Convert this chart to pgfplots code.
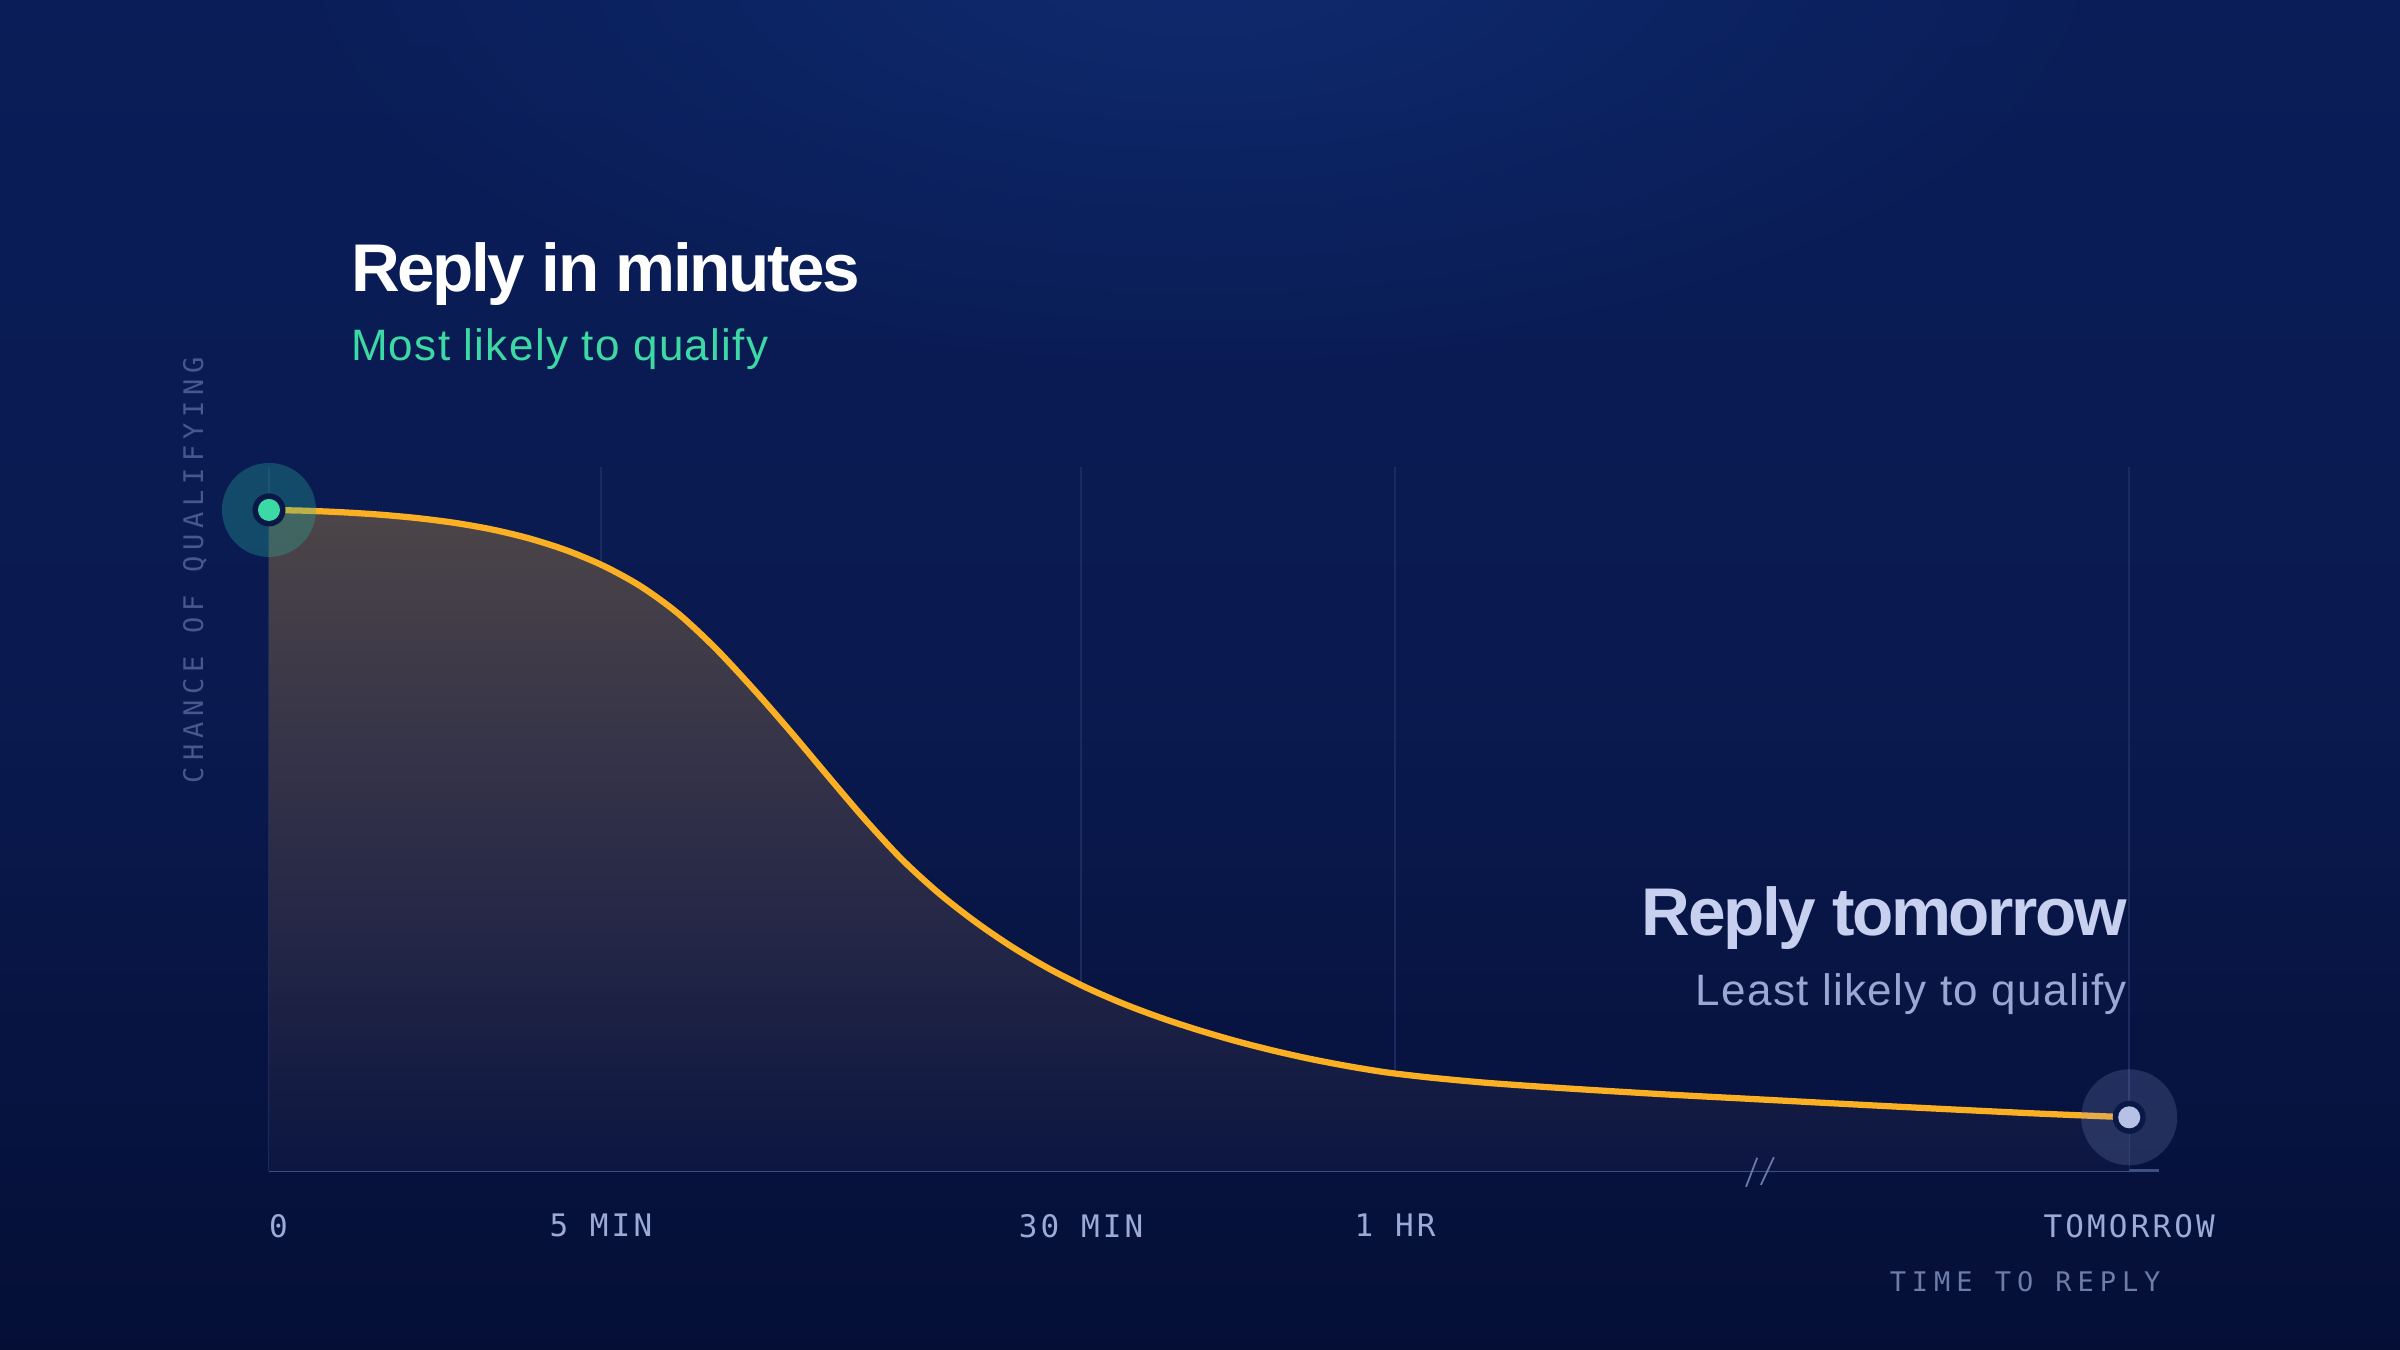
\documentclass[border=0pt]{standalone}
\usepackage{fontspec}
\usepackage{pgfplots}
\usepackage{pgfplotstable}
\pgfplotsset{compat=1.18}
\usetikzlibrary{fadings}
\setmainfont{Liberation Sans}
\newfontfamily\titlefont[LetterSpace=-3.5]{Liberation Sans}
\newfontfamily\subfont[LetterSpace=3]{Liberation Sans}
\newfontfamily\tickfont[LetterSpace=10]{DejaVu Sans Mono}
\newfontfamily\labfont[LetterSpace=22]{DejaVu Sans Mono}

\definecolor{bgTop}{HTML}{0A1D58}
\definecolor{bgMid}{HTML}{0A1A50}
\definecolor{bgBot}{HTML}{050F36}
\definecolor{glow}{HTML}{0F2B6E}
\definecolor{fillTop}{HTML}{4C4548}
\definecolor{fillMid}{HTML}{2D2D48}
\definecolor{fillBot}{HTML}{0C1641}
\definecolor{curvec}{HTML}{FBB024}
\definecolor{gridc}{HTML}{1B2B5F}
\definecolor{axisc}{HTML}{3F4F82}
\definecolor{tickc}{HTML}{9CAAD6}
\definecolor{xlabc}{HTML}{6E7CA8}
\definecolor{ylabc}{HTML}{46588D}
\definecolor{greenc}{HTML}{3DD9A4}
\definecolor{lavT}{HTML}{C8D0F0}
\definecolor{lavS}{HTML}{9AA6D4}
\definecolor{ringc}{HTML}{0A1848}
\definecolor{dotEnd}{HTML}{B7C1E6}
\definecolor{haloA}{HTML}{2BB5A0}
\definecolor{haloB}{HTML}{8F9FD8}
\definecolor{breakc}{HTML}{6B7AA8}

\tikzfading[name=glowfade, inner color=transparent!0, outer color=transparent!100]

% x: position on the time axis (0 = reply now, 100 = tomorrow)
% y: chance of qualifying (relative, 100 = immediate reply)
\pgfplotstableread{
x y
0 100
2 99.88
4 99.64
6 99.28
8 98.76
10 98.04
12 97.04
14 95.68
16 93.88
18 91.52
20 88.42
22 84.32
24 79.08
26 73.04
28 66.60
30 59.90
32 53.30
34 47.20
36 42.04
38 37.64
40 33.80
42 30.50
44 27.66
46 25.22
48 23.12
50 21.28
52 19.64
54 18.20
56 16.94
58 15.86
60 14.94
62 14.26
64 13.70
66 13.22
70 12.45
75 11.60
80 10.85
85 10.10
90 9.38
95 8.70
100 8.12
}\curvedata

\begin{document}
\begin{tikzpicture}
% background
\shade[top color=bgTop, bottom color=bgBot, middle color=bgMid] (0,0) rectangle (480pt,270pt);
\fill[glow, path fading=glowfade] (240pt,280pt) ellipse (190pt and 85pt);

\begin{axis}[
  at={(53.8pt,35.8pt)}, anchor=south west,
  scale only axis, width=378pt, height=140.8pt,
  xmin=0, xmax=101.6, ymin=0, ymax=106.5,
  clip=false,
  axis y line=none,
  axis x line*=bottom,
  x axis line style={color=axisc, line width=0.6pt, -},
  xtick={17.84,43.66,60.53,100},
  xticklabels={5 MIN,30 MIN,1 HR,TOMORROW},
  extra x ticks={0},
  extra x tick labels={0},
  extra x tick style={xticklabel style={anchor=north west, xshift=-3.5pt}},
  major tick length=0pt,
  xmajorgrids,
  grid style={color=gridc, line width=0.3pt},
  xticklabel style={font=\tickfont\fontsize{6.2}{7}\selectfont, text=tickc, anchor=north, yshift=-5.1pt},
  ytick=\empty,
]
\addplot[draw=none, top color=fillTop, bottom color=fillBot, middle color=fillMid, smooth] table[x=x,y=y]{\curvedata} \closedcycle;
\addplot[only marks, color=haloA, mark=*, mark size=9.4pt, mark options={draw opacity=0, fill=haloA, fill opacity=0.3}] coordinates {(0,100)};
\addplot[only marks, color=haloB, mark=*, mark size=9.6pt, mark options={draw opacity=0, fill=haloB, fill opacity=0.2}] coordinates {(100,8.12)};
\addplot[color=curvec, line width=1.25pt, smooth] table[x=x,y=y]{\curvedata};
\addplot[only marks, color=ringc, mark=*, mark size=3.1pt, mark options={draw=ringc, fill=ringc}] coordinates {(0,100) (100,8.12)};
\addplot[only marks, color=greenc, mark=*, mark size=2pt, mark options={draw=greenc, fill=greenc}] coordinates {(0,100)};
\addplot[only marks, color=dotEnd, mark=*, mark size=2pt, mark options={draw=dotEnd, fill=dotEnd}] coordinates {(100,8.12)};
\draw[breakc, line width=0.35pt] (axis cs:79.4,-2.4) -- (axis cs:80.0,2.0);
\draw[breakc, line width=0.35pt] (axis cs:80.2,-2.1) -- (axis cs:80.9,2.1);
\end{axis}

% titles
\node[anchor=base west, inner sep=0pt, text=white] at (70pt,211.7pt)
  {\titlefont\bfseries\fontsize{13.5}{15}\selectfont Reply in minutes};
\node[anchor=base west, inner sep=0pt, text=greenc] at (70pt,197.9pt)
  {\subfont\fontsize{8.8}{10}\selectfont Most likely to qualify};
\node[anchor=base east, inner sep=0pt, text=lavT] at (425.6pt,82.8pt)
  {\titlefont\bfseries\fontsize{13.5}{15}\selectfont Reply tomorrow};
\node[anchor=base east, inner sep=0pt, text=lavS] at (425.6pt,68.8pt)
  {\subfont\fontsize{8.8}{10}\selectfont Least likely to qualify};
% axis titles
\node[anchor=base east, inner sep=0pt, text=xlabc] at (432.3pt,11.7pt)
  {\labfont\fontsize{5.4}{6}\selectfont TIME TO REPLY};
\node[rotate=90, inner sep=0pt, text=ylabc] at (39pt,156pt)
  {\labfont\fontsize{5.4}{6}\selectfont CHANCE OF QUALIFYING};

\pgfresetboundingbox
\useasboundingbox (0,0) rectangle (480pt,270pt);
\end{tikzpicture}
\end{document}
